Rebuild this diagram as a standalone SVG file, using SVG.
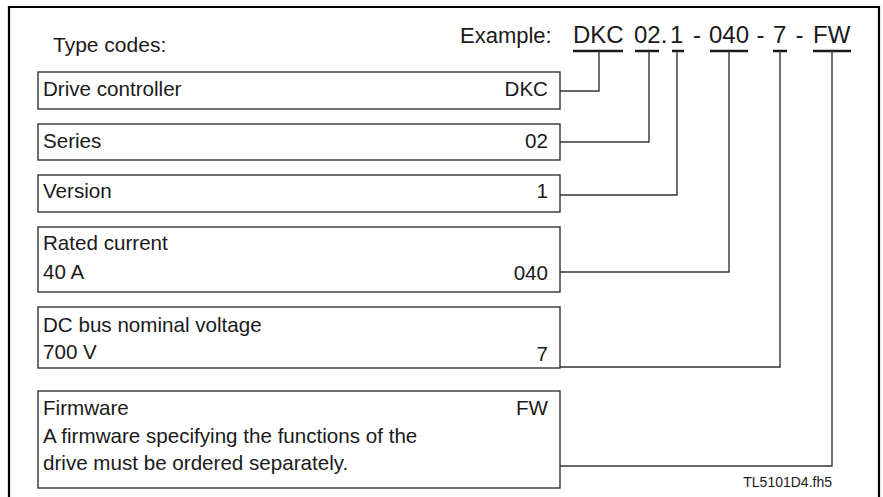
<svg xmlns="http://www.w3.org/2000/svg" width="883" height="497" viewBox="0 0 883 497">
<style>
text{font-family:"Liberation Sans",Arial,Helvetica,sans-serif;fill:#1a1a1a;font-size:20.6px}
.code{font-size:24px}
.r{text-anchor:end}
.m{text-anchor:middle}
.box{fill:#fff;stroke:#333;stroke-width:1.4}
.ul{stroke:#1a1a1a;stroke-width:2.4;fill:none}
.con{stroke:#333;stroke-width:1.4;fill:none}
.small{font-size:14px}
</style>
<rect x="0" y="0" width="883" height="497" fill="#fff"/>
<path d="M9 497 V7 H879 V497" fill="none" stroke="#000" stroke-width="2.2"/>
<g id="header">
<text x="53" y="52" style="font-size:21px">Type codes:</text>
<text x="460" y="43" style="font-size:22px">Example:</text>
<text class="code" x="573" y="43">DKC</text>
<text class="code" x="634" y="43">02.</text>
<text class="code" x="670" y="43">1</text>
<text class="code m" x="697" y="43">-</text>
<text class="code" x="709" y="43">040</text>
<text class="code m" x="760.5" y="43">-</text>
<text class="code" x="773" y="43">7</text>
<text class="code m" x="799.5" y="43">-</text>
<text class="code" x="813" y="43">FW</text>
<path class="ul" d="M573 51 H623 M635 51 H659 M672 51 H684 M710 51 H748 M773 51 H787 M813 51 H851"/>
</g>
<g id="drive-controller">
<rect class="box" x="38" y="72" width="522" height="37"/>
<text x="43" y="96">Drive controller</text>
<text class="r" x="548" y="96">DKC</text>
</g>
<g id="series">
<rect class="box" x="38" y="124" width="522" height="36"/>
<text x="43" y="148">Series</text>
<text class="r" x="548" y="148">02</text>
</g>
<g id="version">
<rect class="box" x="38" y="175" width="522" height="37"/>
<text x="43" y="198">Version</text>
<text class="r" x="548" y="198">1</text>
</g>
<g id="rated-current">
<rect class="box" x="38" y="227" width="522" height="65"/>
<text x="43" y="250">Rated current</text>
<text x="43" y="279">40 A</text>
<text class="r" x="548" y="280">040</text>
</g>
<g id="dc-bus-voltage">
<rect class="box" x="38" y="307" width="522" height="61"/>
<text x="43" y="332">DC bus nominal voltage</text>
<text x="43" y="359">700 V</text>
<text class="r" x="548" y="361">7</text>
</g>
<g id="firmware">
<rect class="box" x="38" y="391" width="522" height="97"/>
<text x="43" y="415">Firmware</text>
<text class="r" x="548" y="415">FW</text>
<text x="43" y="443">A firmware specifying the functions of the</text>
<text x="43" y="470">drive must be ordered separately.</text>
</g>
<g id="connectors">
<path class="con" d="M599 51 V91 H560"/>
<path class="con" d="M649 51 V142 H560"/>
<path class="con" d="M677 51 V195 H560"/>
<path class="con" d="M729 51 V272 H560"/>
<path class="con" d="M780 51 V367 H560"/>
<path class="con" d="M832 51 V466 H560"/>
</g>
<text class="small r" x="832" y="487">TL5101D4.fh5</text>
</svg>
